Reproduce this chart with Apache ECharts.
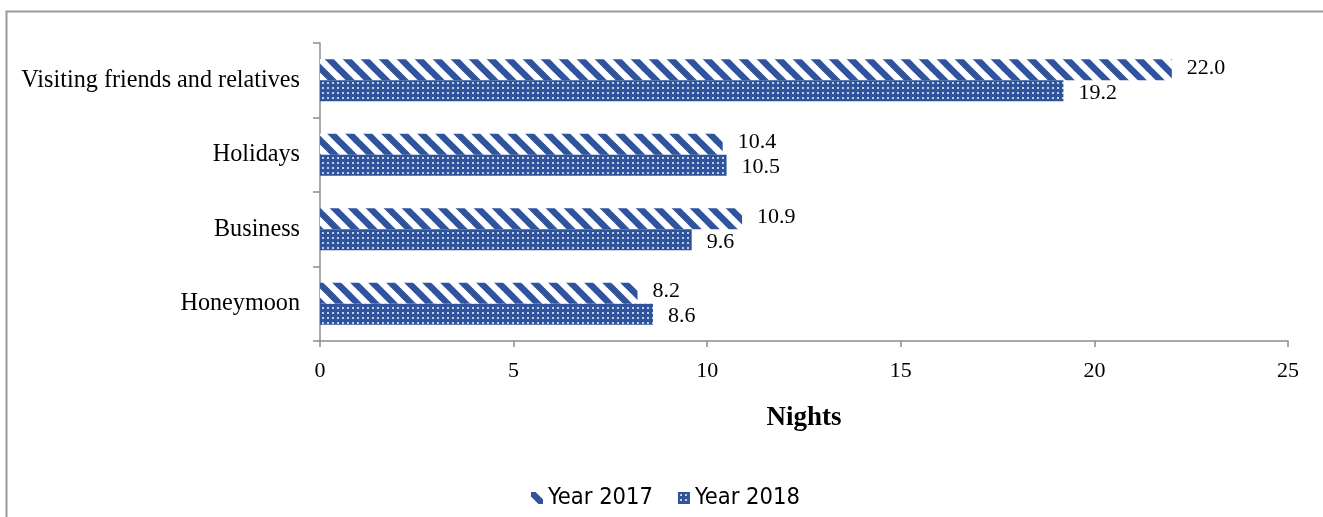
<!DOCTYPE html>
<html><head><meta charset="utf-8">
<script src="https://cdn.jsdelivr.net/npm/echarts@6/dist/echarts.min.js"></script>
<style>html,body{margin:0;padding:0;background:#fff}#c{width:1323px;height:517px}</style>
</head><body><div id="c"></div>
<script>
const categories = ['Honeymoon', 'Business', 'Holidays', 'Visiting friends and relatives'];
const year2017 = [8.2, 10.9, 10.4, 22.0];
const year2018 = [8.6, 9.6, 10.5, 19.2];
const seriesNames = ['Year 2017', 'Year 2018'];
const xTicks = [0, 5, 10, 15, 20, 25];

const BLUE = '#2F549B';
function stripePattern() {
  const s = 18;
  const c = document.createElement('canvas');
  c.width = s; c.height = s;
  const g = c.getContext('2d');
  g.fillStyle = '#fff'; g.fillRect(0, 0, s, s);
  g.strokeStyle = BLUE; g.lineWidth = 6.5;
  for (let k = -1; k <= 1; k++) {
    g.beginPath();
    g.moveTo(k * s - 2, -2);
    g.lineTo(k * s + s + 2, s + 2);
    g.stroke();
  }
  return c;
}
function dotPattern() {
  const s = 5;
  const c = document.createElement('canvas');
  c.width = s; c.height = s;
  const g = c.getContext('2d');
  g.fillStyle = BLUE; g.fillRect(0, 0, s, s);
  g.fillStyle = '#c4cfe6'; g.fillRect(2, 2, 2, 2);
  return c;
}
const pat17 = { image: stripePattern(), repeat: 'repeat' };
const pat18 = { image: dotPattern(), repeat: 'repeat' };

const chart = echarts.init(document.getElementById('c'), null, { renderer: 'canvas' });
const serif = 'Liberation Serif';
chart.setOption({
  animation: false,
  backgroundColor: '#fff',
  grid: { left: 320, right: 35, top: 43, bottom: 176, containLabel: false },
  xAxis: {
    type: 'value', min: 0, max: 25, interval: 5,
    name: 'Nights', nameLocation: 'middle', nameGap: 64,
    nameTextStyle: { fontFamily: serif, fontSize: 27, fontWeight: 'bold', color: '#000' },
    axisLine: { show: true, lineStyle: { color: '#8c8c8c', width: 1.5 } },
    axisTick: { show: true, length: 6, lineStyle: { color: '#8c8c8c', width: 1.5 } },
    splitLine: { show: false },
    axisLabel: { fontFamily: serif, fontSize: 22, color: '#000', margin: 19,
      formatter: v => xTicks.includes(v) ? String(v) : '' }
  },
  yAxis: {
    type: 'category', data: categories,
    axisLine: { show: true, lineStyle: { color: '#8c8c8c', width: 1.5 } },
    axisTick: { show: true, length: 7, lineStyle: { color: '#8c8c8c', width: 1.5 } },
    axisLabel: { fontFamily: serif, fontSize: 24.2, color: '#000', margin: 20 }
  },
  legend: {
    data: seriesNames, left: 526, top: 481, itemWidth: 12, itemHeight: 12, itemGap: 25,
    textStyle: { fontFamily: "'DejaVu Sans Condensed', Lato", fontSize: 23.5, color: '#000' },
    icon: 'rect'
  },
  series: [
    { name: seriesNames[0], type: 'bar', data: year2017, barWidth: 21, barGap: '0%',
      itemStyle: { color: pat17 },
      label: { show: true, position: 'right', distance: 15, offset: [0, -2], fontFamily: serif, fontSize: 22, color: '#000',
        formatter: p => p.value.toFixed(1) } },
    { name: seriesNames[1], type: 'bar', data: year2018, barWidth: 21, barGap: '0%',
      itemStyle: { color: pat18 },
      label: { show: true, position: 'right', distance: 15, offset: [0, 2], fontFamily: serif, fontSize: 22, color: '#000',
        formatter: p => p.value.toFixed(1) } }
  ],
  graphic: [
    { type: 'polyline', shape: { points: [[6.5, 517], [6.5, 11.5], [1323, 11.5]] },
      style: { stroke: '#9a9a9a', lineWidth: 2, fill: null } }
  ]
});
</script></body></html>
